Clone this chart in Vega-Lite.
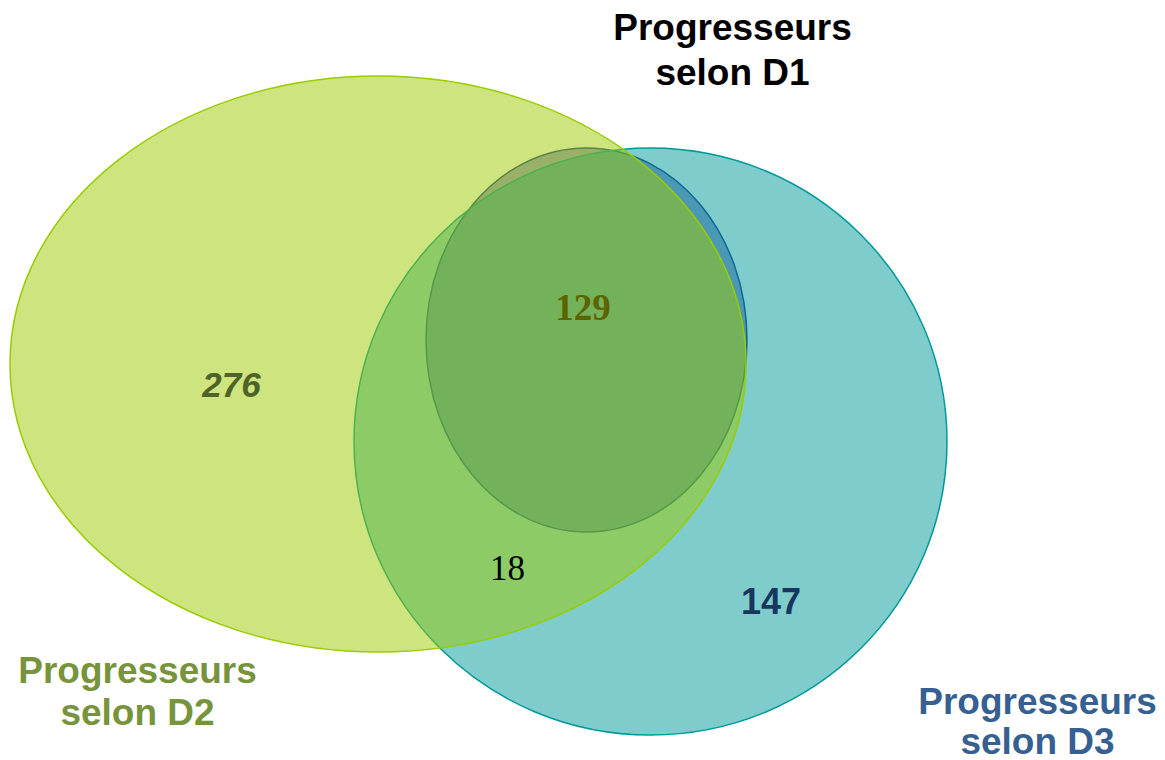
{
  "$schema": "https://vega.github.io/schema/vega-lite/v6.json",
  "width": 1165,
  "height": 760,
  "autosize": {"type": "none"},
  "padding": 0,
  "background": "white",
  "view": {"stroke": null},
  "config": {"text": {"font": "Liberation Sans"}},
  "datasets": {
    "ellipses": [
      {"set": "D1", "x": 586.5, "y": 340},
      {"set": "D3", "x": 650.5, "y": 441.5},
      {"set": "D2", "x": 378, "y": 364}
    ],
    "titles": [
      {"set": "D1", "label": "Progresseurs\nselon D1", "x": 732.5, "y": 40},
      {"set": "D2", "label": "Progresseurs\nselon D2", "x": 137.5, "y": 683},
      {"set": "D3", "label": "Progresseurs\nselon D3", "x": 1037.5, "y": 714}
    ],
    "counts": [
      {"region": "D2 seul", "n": 276, "x": 231.5, "y": 396.5},
      {"region": "D1 D2 D3", "n": 129, "x": 583, "y": 319.5},
      {"region": "D2 D3", "n": 18, "x": 507.5, "y": 580},
      {"region": "D3 seul", "n": 147, "x": 771, "y": 614}
    ]
  },
  "encoding": {
    "x": {"field": "x", "type": "quantitative", "scale": {"domain": [0, 1165], "nice": false, "zero": false}, "axis": null},
    "y": {"field": "y", "type": "quantitative", "scale": {"domain": [760, 0], "nice": false, "zero": false}, "axis": null}
  },
  "layer": [
    {
      "data": {"name": "ellipses"},
      "transform": [{"filter": "datum.set == 'D1'"}],
      "mark": {"type": "point", "filled": true, "opacity": 1, "shape": "M -0.8359 0 A 0.8359 1 0 1 1 0.8359 0 A 0.8359 1 0 1 1 -0.8359 0 Z", "size": 147456, "fill": "#292d9f", "fillOpacity": 0.5, "stroke": "#1a3a8a", "strokeWidth": 1.5, "strokeOpacity": 1}
    },
    {
      "data": {"name": "ellipses"},
      "transform": [{"filter": "datum.set == 'D3'"}],
      "mark": {"type": "point", "filled": true, "opacity": 1, "shape": "M -1 0 A 1 0.9899 0 1 1 1 0 A 1 0.9899 0 1 1 -1 0 Z", "size": 351649, "fill": "#009999", "fillOpacity": 0.5, "stroke": "#009999", "strokeWidth": 1.5, "strokeOpacity": 1}
    },
    {
      "data": {"name": "ellipses"},
      "transform": [{"filter": "datum.set == 'D2'"}],
      "mark": {"type": "point", "filled": true, "opacity": 1, "shape": "M -1 0 A 1 0.7826 0 1 1 1 0 A 1 0.7826 0 1 1 -1 0 Z", "size": 541696, "fill": "#9bc900", "fillOpacity": 0.5, "stroke": "#99cc00", "strokeWidth": 1.5, "strokeOpacity": 1}
    },
    {
      "data": {"name": "titles"},
      "transform": [{"filter": "datum.set == 'D1'"}],
      "mark": {"type": "text", "font": "Liberation Sans", "fontWeight": "bold", "fontSize": 37, "align": "center", "baseline": "alphabetic", "lineBreak": "\n", "lineHeight": 45, "color": "#000000"},
      "encoding": {"text": {"field": "label"}}
    },
    {
      "data": {"name": "titles"},
      "transform": [{"filter": "datum.set == 'D2'"}],
      "mark": {"type": "text", "font": "Liberation Sans", "fontWeight": "bold", "fontSize": 37, "align": "center", "baseline": "alphabetic", "lineBreak": "\n", "lineHeight": 42, "color": "#77933c"},
      "encoding": {"text": {"field": "label"}}
    },
    {
      "data": {"name": "titles"},
      "transform": [{"filter": "datum.set == 'D3'"}],
      "mark": {"type": "text", "font": "Liberation Sans", "fontWeight": "bold", "fontSize": 37, "align": "center", "baseline": "alphabetic", "lineBreak": "\n", "lineHeight": 40, "color": "#376092"},
      "encoding": {"text": {"field": "label"}}
    },
    {
      "data": {"name": "counts"},
      "transform": [{"filter": "datum.region == 'D2 seul'"}],
      "mark": {"type": "text", "font": "Liberation Sans", "fontWeight": "bold", "fontStyle": "italic", "fontSize": 35, "align": "center", "baseline": "alphabetic", "color": "#4f6228"},
      "encoding": {"text": {"field": "n", "type": "quantitative"}}
    },
    {
      "data": {"name": "counts"},
      "transform": [{"filter": "datum.region == 'D1 D2 D3'"}],
      "mark": {"type": "text", "font": "Liberation Serif", "fontWeight": "bold", "fontSize": 37, "align": "center", "baseline": "alphabetic", "color": "#5c6400"},
      "encoding": {"text": {"field": "n", "type": "quantitative"}}
    },
    {
      "data": {"name": "counts"},
      "transform": [{"filter": "datum.region == 'D2 D3'"}],
      "mark": {"type": "text", "font": "Liberation Serif", "fontSize": 35, "align": "center", "baseline": "alphabetic", "color": "#000000"},
      "encoding": {"text": {"field": "n", "type": "quantitative"}}
    },
    {
      "data": {"name": "counts"},
      "transform": [{"filter": "datum.region == 'D3 seul'"}],
      "mark": {"type": "text", "font": "Liberation Sans", "fontWeight": "bold", "fontSize": 36, "align": "center", "baseline": "alphabetic", "color": "#17375e"},
      "encoding": {"text": {"field": "n", "type": "quantitative"}}
    }
  ]
}
